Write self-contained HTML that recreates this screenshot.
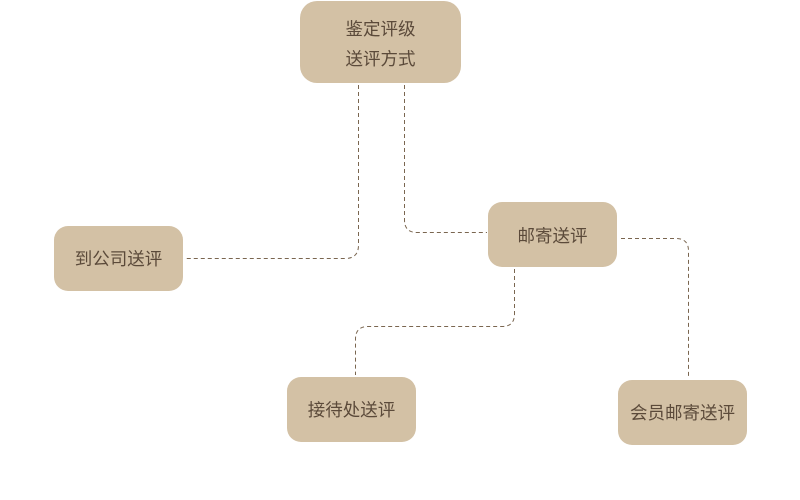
<!DOCTYPE html>
<html><head><meta charset="utf-8"><style>
body{margin:0;width:800px;height:500px;background:#fff;position:relative;overflow:hidden;font-family:"Liberation Sans","Noto Sans CJK SC",sans-serif;}
.b{position:absolute;background:#d3c1a5;border-radius:14px;color:#5b4a3a;font-size:17.5px;display:flex;align-items:center;justify-content:center;text-align:center;line-height:30px;}
svg{position:absolute;left:0;top:0}
</style></head><body>
<svg width="800" height="500"><g fill="none" stroke="#7a6650" stroke-width="1" stroke-dasharray="4,3">
<path d="M358.5 85 V245 Q358.5 258.5 345 258.5 H186"/>
<path d="M404.5 85 V220 Q404.5 232.5 417 232.5 H487"/>
<path d="M621 238.5 H676 Q688.5 238.5 688.5 251 V378"/>
<path d="M514.5 269 V314 Q514.5 326.5 502 326.5 H368 Q355.5 326.5 355.5 339 V375"/>
</g></svg>
<div class="b" style="left:300px;top:1px;width:161px;height:82px;border-radius:17px;padding-top:4px;box-sizing:border-box">鉴定评级<br>送评方式</div>
<div class="b" style="left:488px;top:202px;width:129px;height:65px;padding-top:2px;box-sizing:border-box">邮寄送评</div>
<div class="b" style="left:54px;top:226px;width:129px;height:65px">到公司送评</div>
<div class="b" style="left:287px;top:377px;width:129px;height:65px">接待处送评</div>
<div class="b" style="left:618px;top:380px;width:129px;height:65px">会员邮寄送评</div>
</body></html>
